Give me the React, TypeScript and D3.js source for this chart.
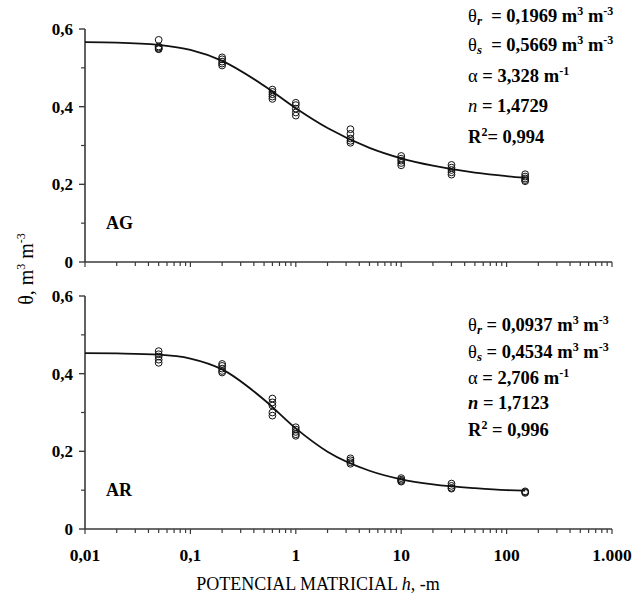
import { useEffect, useRef } from 'react';
import * as d3 from 'd3';

// measured suction heads (m) and replicate water contents
const hObs = [0.05, 0.2, 0.6, 1, 3.3, 10, 30, 150];

const agObs = [
    [0.572, 0.555, 0.552, 0.549, 0.548],
    [0.527, 0.522, 0.516, 0.511, 0.506],
    [0.444, 0.438, 0.432, 0.426, 0.420],
    [0.410, 0.404, 0.395, 0.385, 0.377],
    [0.342, 0.330, 0.318, 0.312, 0.307],
    [0.273, 0.266, 0.261, 0.255, 0.249],
    [0.250, 0.243, 0.237, 0.231, 0.225],
    [0.226, 0.220, 0.215, 0.211, 0.208],
];

const arObs = [
    [0.458, 0.450, 0.444, 0.436, 0.428],
    [0.425, 0.420, 0.413, 0.407, 0.403],
    [0.336, 0.326, 0.318, 0.300, 0.292],
    [0.262, 0.256, 0.250, 0.244, 0.240],
    [0.182, 0.177, 0.172, 0.168],
    [0.131, 0.127, 0.124, 0.122],
    [0.117, 0.111, 0.106, 0.104],
    [0.097, 0.095, 0.093],
];

// fitted curve
const hCurve = [0.01, 0.02, 0.05, 0.1, 0.2, 0.5, 1, 2, 5, 10, 20, 50, 100, 150];
const agCurve = [0.566, 0.565, 0.559, 0.546, 0.518, 0.454, 0.396, 0.345, 0.294, 0.267, 0.248, 0.230, 0.221, 0.217];
const arCurve = [0.453, 0.452, 0.449, 0.439, 0.411, 0.333, 0.259, 0.199, 0.150, 0.128, 0.115, 0.105, 0.100, 0.099];

const yTicks = [0, 0.2, 0.4, 0.6];
const yMinor = [0.1, 0.3, 0.5];
const xLabels = ['0,01', '0,1', '1', '10', '100', '1.000'];

const FONT = '"Liberation Serif", "Times New Roman", serif';

function Panel({ g, x, y, obs, curve, name }) {
    // draw one panel into a d3 group
    const axisColor = '#3a3a3a';
    const x0 = x.range()[0], x1 = x.range()[1];

    g.append('line')
        .attr('x1', x0).attr('x2', x0)
        .attr('y1', y(0.6)).attr('y2', y(0))
        .attr('stroke', axisColor).attr('stroke-width', 1.6);
    g.append('line')
        .attr('x1', x0).attr('x2', x1)
        .attr('y1', y(0)).attr('y2', y(0))
        .attr('stroke', axisColor).attr('stroke-width', 1.6);

    g.selectAll('.ymaj').data(yTicks).join('line')
        .attr('x1', x0 - 6).attr('x2', x0)
        .attr('y1', d => y(d)).attr('y2', d => y(d))
        .attr('stroke', axisColor).attr('stroke-width', 1.4);
    g.selectAll('.ymin').data(yMinor).join('line')
        .attr('class', 'ymin')
        .attr('x1', x0 - 4).attr('x2', x0)
        .attr('y1', d => y(d)).attr('y2', d => y(d))
        .attr('stroke', axisColor).attr('stroke-width', 1.2);

    g.selectAll('.ylab').data(yTicks).join('text')
        .attr('class', 'ylab')
        .attr('x', x0 - 12)
        .attr('y', d => y(d))
        .attr('dy', '0.35em')
        .attr('text-anchor', 'end')
        .attr('font-family', FONT)
        .attr('font-weight', 'bold')
        .attr('font-size', 17)
        .text(d => (d === 0 ? '0' : d3.format('.1f')(d).replace('.', ',')));

    // x ticks, 1..9 per decade
    const xt = x.ticks();
    g.selectAll('.xt').data(xt).join('line')
        .attr('class', 'xt')
        .attr('x1', d => x(d)).attr('x2', d => x(d))
        .attr('y1', y(0)).attr('y2', d => y(0) + (Math.abs(Math.log10(d) % 1) < 1e-6 ? 5 : 4))
        .attr('stroke', axisColor).attr('stroke-width', 1.2);

    const line = d3.line()
        .x(d => x(d[0]))
        .y(d => y(d[1]))
        .curve(d3.curveMonotoneX);

    g.append('path')
        .datum(hCurve.map((h, i) => [h, curve[i]]))
        .attr('fill', 'none')
        .attr('stroke', '#111')
        .attr('stroke-width', 1.8)
        .attr('d', line);

    const pts = [];
    obs.forEach((vals, i) => vals.forEach(v => pts.push([hObs[i], v])));
    g.selectAll('.pt').data(pts).join('circle')
        .attr('class', 'pt')
        .attr('cx', d => x(d[0]))
        .attr('cy', d => y(d[1]))
        .attr('r', 3.4)
        .attr('fill', 'none')
        .attr('stroke', '#111')
        .attr('stroke-width', 1);

    g.append('text')
        .attr('x', 106).attr('y', y(0.1))
        .attr('dy', '0.35em')
        .attr('font-family', FONT)
        .attr('font-weight', 'bold')
        .attr('font-size', 18)
        .text(name);
}

function addParams(g, rows, x, ys) {
    // rows: arrays of text segments
    rows.forEach((segs, i) => {
        const t = g.append('text')
            .attr('x', x).attr('y', ys[i])
            .attr('font-family', FONT)
            .attr('font-size', 18.5)
            .attr('xml:space', 'preserve');
        segs.forEach(s => {
            const sp = t.append('tspan').text(s.t);
            if (s.b !== false) sp.attr('font-weight', 'bold');
            if (s.i) sp.attr('font-style', 'italic');
            if (s.sup) sp.attr('font-size', 12).attr('dy', -7);
            if (s.sub) sp.attr('font-size', 13).attr('dy', 3);
            if (s.back) sp.attr('dy', s.back);
        });
    });
}

export default function App() {
    const svgRef = useRef(null);

    useEffect(() => {
        document.body.style.margin = '0';
        const svg = d3.select(svgRef.current);
        svg.selectAll('*').remove();

        const x = d3.scaleLog().domain([0.01, 1000]).range([85, 612]);
        const yTop = d3.scaleLinear().domain([0, 0.6]).range([262, 29]);
        const yBot = d3.scaleLinear().domain([0, 0.6]).range([529, 296]);

        Panel({ g: svg.append('g'), x, y: yTop, obs: agObs, curve: agCurve, name: 'AG' });
        Panel({ g: svg.append('g'), x, y: yBot, obs: arObs, curve: arCurve, name: 'AR' });

        const cube = [{ t: 'm' }, { t: '3', sup: true }, { t: ' m', back: 7 }, { t: '-3', sup: true }];
        const inv = [{ t: 'm' }, { t: '-1', sup: true }];

        addParams(svg.append('g'), [
            [{ t: 'θ', b: false }, { t: 'r', i: true, sub: true }, { t: '  = 0,1969 ', back: -3 }, ...cube],
            [{ t: 'θ', b: false }, { t: 's', i: true, sub: true }, { t: '  = 0,5669 ', back: -3 }, ...cube],
            [{ t: 'α', b: false }, { t: ' = 3,328 ' }, ...inv],
            [{ t: 'n', b: false, i: true }, { t: ' = 1,4729' }],
            [{ t: 'R' }, { t: '2', sup: true }, { t: '= 0,994', back: 7 }],
        ], 468, [22, 51, 82, 112, 143]);

        addParams(svg.append('g'), [
            [{ t: 'θ', b: false }, { t: 'r', i: true, sub: true }, { t: ' = 0,0937 ', back: -3 }, ...cube],
            [{ t: 'θ', b: false }, { t: 's', i: true, sub: true }, { t: ' = 0,4534 ', back: -3 }, ...cube],
            [{ t: 'α', b: false }, { t: ' = 2,706 ' }, ...inv],
            [{ t: 'n', i: true }, { t: ' = 1,7123' }],
            [{ t: 'R' }, { t: '2', sup: true }, { t: ' = 0,996', back: 7 }],
        ], 468, [331, 358, 384, 409, 436]);

        // x tick labels under bottom panel
        svg.selectAll('.xlab').data(xLabels).join('text')
            .attr('class', 'xlab')
            .attr('x', (d, i) => x(Math.pow(10, i - 2)))
            .attr('y', 555)
            .attr('dy', '0.35em')
            .attr('text-anchor', 'middle')
            .attr('font-family', FONT)
            .attr('font-weight', 'bold')
            .attr('font-size', 17.5)
            .text(d => d);

        const xt = svg.append('text')
            .attr('x', 318).attr('y', 590)
            .attr('text-anchor', 'middle')
            .attr('font-family', FONT)
            .attr('font-size', 18);
        xt.append('tspan').text('POTENCIAL MATRICIAL ');
        xt.append('tspan').attr('font-style', 'italic').text('h');
        xt.append('tspan').text(', -m');

        const yt = svg.append('text')
            .attr('transform', 'translate(33,269) rotate(-90)')
            .attr('text-anchor', 'middle')
            .attr('font-family', FONT)
            .attr('font-size', 20);
        yt.append('tspan').text('θ, m');
        yt.append('tspan').attr('font-size', 12).attr('dy', -8).text('3');
        yt.append('tspan').attr('dy', 8).text(' m');
        yt.append('tspan').attr('font-size', 12).attr('dy', -8).text('-3');
    }, []);

    return (
        <svg ref={svgRef} width={634} height={599}
            style={{ display: 'block', background: '#fff' }} />
    );
}
